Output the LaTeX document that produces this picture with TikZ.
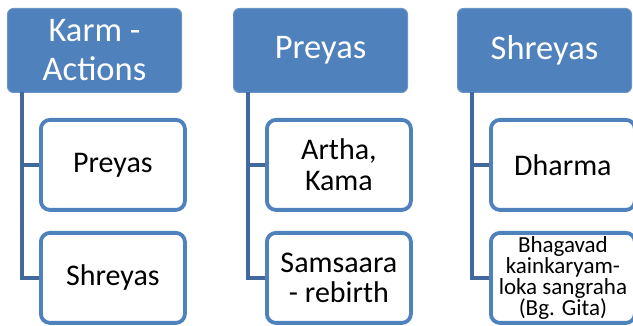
\documentclass[tikz,border=0pt]{standalone}
\usepackage{fontspec}
\setmainfont{Carlito}
\definecolor{hdrblue}{HTML}{4F81BD}
\definecolor{linkblue}{HTML}{41699C}
\begin{document}
\begin{tikzpicture}[x=1pt,y=-1pt,
  hdr/.style={draw=hdrblue!85!white, line width=1pt, fill=hdrblue, rounded corners=6pt,
    minimum width=174pt, minimum height=84pt, inner sep=0pt, anchor=north west,
    text=white, align=center, font=\fontsize{34.5}{39}\selectfont},
  child/.style={draw=hdrblue, line width=3.8pt, fill=white, rounded corners=9pt,
    minimum width=144pt, minimum height=90pt, inner sep=0pt, anchor=north west,
    text=black, align=center, font=\fontsize{30}{30.5}\selectfont},
  link/.style={draw=linkblue, line width=4pt}]
\useasboundingbox (0,0) rectangle (633,326);
% column 1
\node[hdr] (h1) at (7,8) {Karm -\\Actions};
\node[child] (c11) at (39,118) {Preyas};
\node[child] (c12) at (39,231) {Shreyas};
\coordinate (v1) at (22,92);
\draw[link] (v1) |- (c11.west);
\draw[link] (v1) |- (c12.west);
% column 2
\node[hdr] (h2) at (233,8) {Preyas};
\node[child] (c21) at (265,118) {Artha,\\Kama};
\node[child] (c22) at (265,231) {Samsaara\\- rebirth};
\coordinate (v2) at (248,92);
\draw[link] (v2) |- (c21.west);
\draw[link] (v2) |- (c22.west);
% column 3
\node[hdr] (h3) at (457,8) {Shreyas};
\node[child] (c31) at (489,118) {Dharma};
\node[child, font=\fontsize{23}{21}\selectfont] (c32) at (489,231) {Bhagavad\\kainkaryam-\\loka sangraha\\(Bg. Gita)};
\coordinate (v3) at (472,92);
\draw[link] (v3) |- (c31.west);
\draw[link] (v3) |- (c32.west);
\end{tikzpicture}
\end{document}
